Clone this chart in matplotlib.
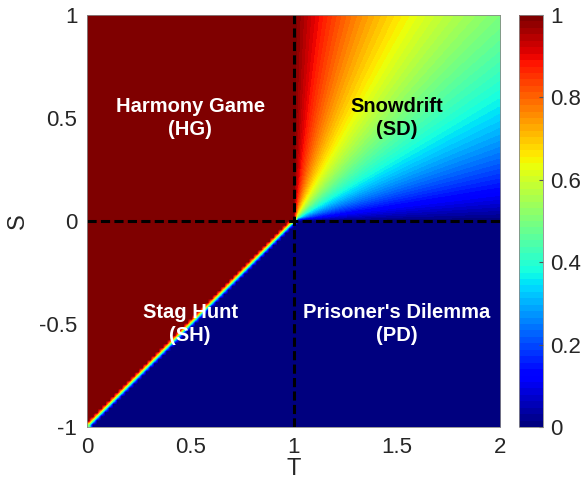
"""Phase diagram of cooperation over the T-S plane (replicator dynamics, x0 = 0.5)."""
import numpy as np
import matplotlib
matplotlib.use("Agg")
import matplotlib.pyplot as plt

plt.rcParams['font.family'] = ['Liberation Sans', 'DejaVu Sans']

# axis grids of the game parameters
T_values = np.linspace(0, 2, 101)
S_values = np.linspace(-1, 1, 101)
x_start = 0.5

# region labels: (T, S, text, colour)
region_T = [0.5, 1.5, 0.5, 1.5]
region_S = [0.5, 0.5, -0.5, -0.5]
region_names = ["Harmony Game\n(HG)", "Snowdrift\n(SD)", "Stag Hunt\n(SH)", "Prisoner's Dilemma\n(PD)"]
region_colors = ["white", "black", "white", "white"]

cbar_ticks = [0, 0.2, 0.4, 0.6, 0.8, 1]


def final_cooperation(T, S, x0):
    """Stationary fraction of cooperators reached from x0."""
    if S >= 0 and T <= 1:
        return 1.0
    if S < 0 and T > 1:
        return 0.0
    if S >= 0 and T > 1:
        # snowdrift: stable mixed point
        return S / (S + T - 1)
    # stag hunt: unstable interior point decides the outcome
    x_star = S / (S + T - 1)
    if abs(x_star - x0) < 1e-9:
        return x0
    return 1.0 if x0 > x_star else 0.0


field = np.array([[final_cooperation(t, s, x_start) for t in T_values] for s in S_values])

fig = plt.figure(figsize=(5.85, 4.83), dpi=100)
ax = fig.add_axes([87 / 585, 1 - 427 / 483, 413 / 585, 412 / 483])
cax = fig.add_axes([519 / 585, 1 - 427 / 483, 24 / 585, 412 / 483])

cmap = plt.get_cmap('jet', 64)
im = ax.imshow(field, origin='lower', extent=[0, 2, -1, 1], aspect='auto',
               cmap=cmap, vmin=0, vmax=1, interpolation='bilinear')

ax.axvline(1, color='black', linestyle=(0, (3.0, 1.4)), linewidth=2.2)
ax.axhline(0, color='black', linestyle=(0, (3.0, 1.4)), linewidth=2.2)

for t, s, name, col in zip(region_T, region_S, region_names, region_colors):
    ax.text(t, s, name, color=col, fontsize=14.5, fontweight='bold',
            ha='center', va='center', linespacing=1.25)

ax.set_xlim(0, 2)
ax.set_ylim(-1, 1)
ax.set_xticks([0, 0.5, 1, 1.5, 2])
ax.set_xticklabels(["0", "0.5", "1", "1.5", "2"])
ax.set_yticks([-1, -0.5, 0, 0.5, 1])
ax.set_yticklabels(["-1", "-0.5", "0", "0.5", "1"])
ax.tick_params(direction='in', labelsize=16, length=0, labelcolor='#262626')
ax.tick_params(axis='x', pad=7)
ax.tick_params(axis='y', pad=7)
ax.set_xlabel("T", fontsize=17, color='#262626', va='top')
ax.set_ylabel("S", fontsize=17, color='#262626', va='center')
ax.xaxis.set_label_coords(0.5, -(458 - 427) / 412)
ax.yaxis.set_label_coords(-(87 - 18) / 413, 0.5)
for sp in ax.spines.values():
    sp.set_color('#888888')
    sp.set_linewidth(0.6)

cb = fig.colorbar(im, cax=cax, ticks=cbar_ticks)
cb.ax.set_yticklabels(["0", "0.2", "0.4", "0.6", "0.8", "1"])
cb.ax.tick_params(direction='in', labelsize=16, length=3, color='#555555',
                  labelcolor='#262626', pad=5)
cb.outline.set_edgecolor('#888888')
cb.outline.set_linewidth(0.6)

fig.savefig("out.png", dpi=100)
